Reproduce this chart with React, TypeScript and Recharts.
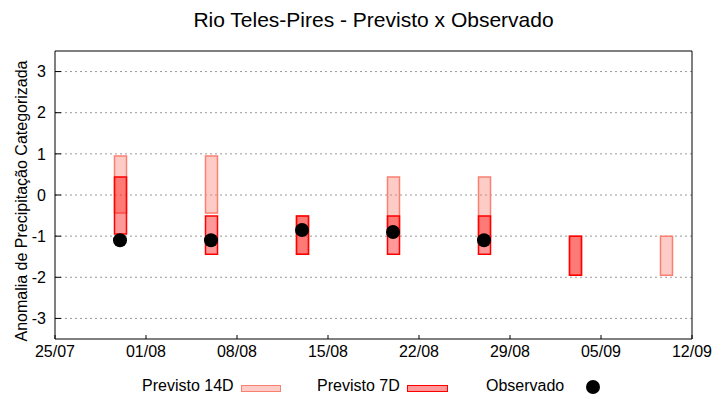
import { ComposedChart, Bar, Scatter, XAxis, YAxis, CartesianGrid, Label, Rectangle, ReferenceLine } from "recharts";

// semanas de previsão
const dates = ["30/07", "06/08", "13/08", "20/08", "27/08", "03/09", "10/09"];
const previsto14Min = [-0.44, -0.44, -1.44, -0.95, -1.15, -1.95, -1.95];
const previsto14Max = [0.95, 0.95, -0.51, 0.44, 0.44, -1.0, -1.0];
const previsto7Min: (number | null)[] = [-0.95, -1.44, -1.44, -1.44, -1.44, -1.95, null];
const previsto7Max: (number | null)[] = [0.44, -0.51, -0.51, -0.51, -0.51, -1.0, null];
const observado: (number | null)[] = [-1.1, -1.1, -0.85, -0.9, -1.1, null, null];

const xTickLabels = ["25/07", "01/08", "08/08", "15/08", "22/08", "29/08", "05/09", "12/09"];
const yTicks = [-3, -2, -1, 0, 1, 2, 3];

const FONT = "Liberation Sans, Arial, sans-serif";

// dias desde 25/07
const dayOf = (s: string) => {
  const [d, m] = s.split("/").map(Number);
  return Math.round((Date.UTC(2024, m - 1, d) - Date.UTC(2024, 6, 25)) / 86400000);
};

const xTicks = xTickLabels.map(dayOf);
const xMax = xTicks[xTicks.length - 1];

const data = dates.map((d, i) => ({
  day: dayOf(d),
  p14: [previsto14Min[i], previsto14Max[i]],
  p7: previsto7Min[i] == null ? null : [previsto7Min[i], previsto7Max[i]],
}));

const obsData = dates
  .map((d, i) => ({ day: dayOf(d), obs: observado[i] }))
  .filter((p) => p.obs != null);

const tickStyle = { fontSize: 16, fill: "#000", fontFamily: FONT };
const axisLine = { stroke: "#000", strokeWidth: 1 };

const RangeBar = (props: any) => {
  if (!props.payload || props.payload[props.dataKey] == null) return <g />;
  return <Rectangle {...props} />;
};

export default function App() {
  return (
    <div style={{ position: "absolute", left: 0, top: 0, width: 720, height: 400, background: "#fff", fontFamily: FONT }}>
      <div style={{ position: "absolute", top: 8, left: 0, width: 747, textAlign: "center", fontSize: 21, lineHeight: "24px", color: "#000" }}>
        Rio Teles-Pires - Previsto x Observado
      </div>

      <ComposedChart
        width={720}
        height={400}
        data={data}
        margin={{ top: 51, right: 28, bottom: 31, left: 0 }}
        barGap={-12}
      >
        <CartesianGrid vertical={false} stroke="#999" strokeDasharray="2 3" horizontalValues={yTicks} />
        <XAxis
          dataKey="day"
          type="number"
          domain={[0, xMax]}
          ticks={xTicks}
          tickFormatter={(v: number) => xTickLabels[xTicks.indexOf(v)] ?? ""}
          height={30}
          axisLine={axisLine}
          tickLine={{ stroke: "#000" }}
          tick={tickStyle}
          tickSize={-4}
          tickMargin={11}
        />
        <XAxis
          xAxisId="top"
          orientation="top"
          type="number"
          domain={[0, xMax]}
          ticks={xTicks}
          height={0}
          axisLine={axisLine}
          tickLine={{ stroke: "#000" }}
          tick={tickStyle}
          tickFormatter={() => ""}
          tickSize={-4}
        />
        <YAxis
          type="number"
          domain={[-3.5, 3.5]}
          ticks={yTicks}
          width={55}
          axisLine={axisLine}
          tickLine={{ stroke: "#000" }}
          tick={tickStyle}
          tickSize={-6}
          tickMargin={15}
        >
          <Label
            content={({ viewBox }: any) => {
              const cy = viewBox.y + viewBox.height / 2 + 6;
              return (
                <text
                  x={27}
                  y={cy}
                  transform={`rotate(-90, 27, ${cy})`}
                  textAnchor="middle"
                  fontSize={16}
                  fontFamily={FONT}
                  fill="#000"
                >
                  Anomalia de Precipitação Categorizada
                </text>
              );
            }}
          />
        </YAxis>
        <YAxis
          yAxisId="right"
          orientation="right"
          type="number"
          domain={[-3.5, 3.5]}
          ticks={yTicks}
          width={0}
          axisLine={axisLine}
          tickLine={{ stroke: "#000" }}
          tick={tickStyle}
          tickFormatter={() => ""}
          tickSize={-6}
        />
        <ReferenceLine y={3.5} stroke="#000" ifOverflow="extendDomain" />
        <ReferenceLine x={xMax} stroke="#000" ifOverflow="extendDomain" />
        <Bar
          dataKey="p14"
          barSize={12}
          fill="#FA8072"
          fillOpacity={0.4}
          stroke="#FA8072"
          strokeWidth={1.5}
          shape={RangeBar}
          isAnimationActive={false}
        />
        <Bar
          dataKey="p7"
          barSize={12}
          fill="#FF0000"
          fillOpacity={0.4}
          stroke="#FF0000"
          strokeWidth={1.5}
          shape={RangeBar}
          isAnimationActive={false}
        />
        <Scatter
          data={obsData}
          dataKey="obs"
          fill="#000"
          shape={(p: any) => <circle cx={p.cx} cy={p.cy} r={7} fill="#000" />}
          isAnimationActive={false}
        />
      </ComposedChart>

      {/* legenda */}
      <div style={{ position: "absolute", top: 376, left: 0, width: 720, height: 20, fontSize: 16, lineHeight: "20px", color: "#000" }}>
        <span style={{ position: "absolute", left: 142 }}>Previsto 14D</span>
        <span style={{ position: "absolute", left: 241, top: 9, width: 40, height: 7, boxSizing: "border-box", background: "#FDCCC7", border: "1px solid #FA8072" }} />
        <span style={{ position: "absolute", left: 317 }}>Previsto 7D</span>
        <span style={{ position: "absolute", left: 407, top: 9, width: 41, height: 7, boxSizing: "border-box", background: "#FF9999", border: "1px solid #FF0000" }} />
        <span style={{ position: "absolute", left: 486 }}>Observado</span>
        <span style={{ position: "absolute", left: 586, top: 4, width: 14, height: 14, borderRadius: 7, background: "#000" }} />
      </div>
    </div>
  );
}
